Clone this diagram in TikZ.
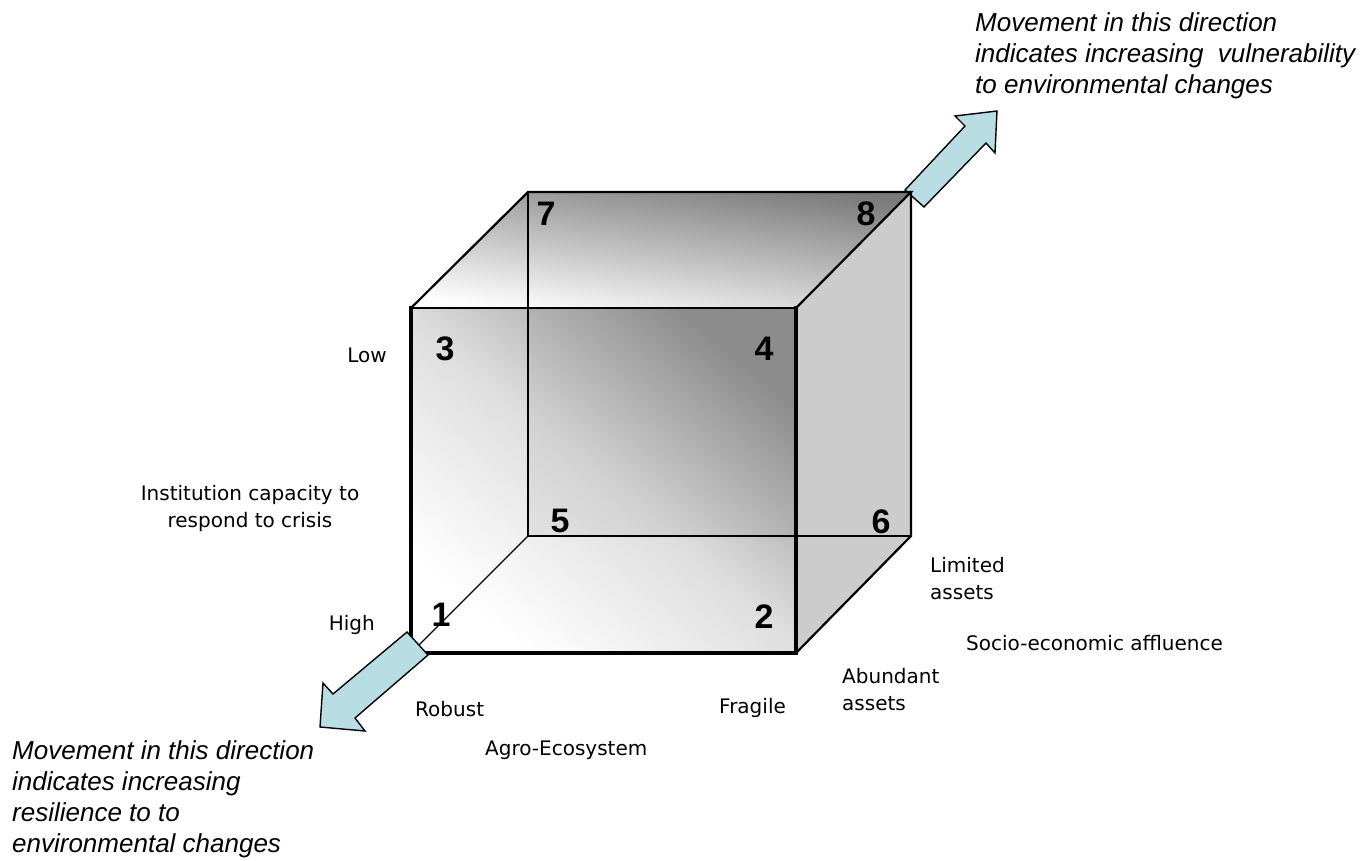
\documentclass[tikz,border=0pt]{standalone}
\usepackage{fontspec}
\setmainfont{Liberation Sans}
\newfontfamily\labelfont{DejaVu Sans}
\definecolor{arrowblue}{RGB}{184,222,227}
\definecolor{sidegray}{RGB}{204,204,204}
\tikzset{
  lbl/.style={font=\labelfont\fontsize{20}{27}\selectfont, inner sep=0pt, align=left},
  note/.style={font=\itshape\fontsize{26}{31}\selectfont, inner sep=0pt, align=left},
  num/.style={font=\bfseries\fontsize{34}{36}\selectfont, inner sep=0pt},
  blockarrow/.style={fill=arrowblue, draw=black, line width=1.4pt, line join=miter},
  thinedge/.style={line width=1.2pt},
  midedge/.style={line width=2.2pt},
  thickedge/.style={line width=3.6pt, line join=miter, line cap=rect},
}
\begin{document}
\begin{tikzpicture}[x=1pt, y=-1pt]
\useasboundingbox (0,0) rectangle (1369,860);
% cube corners
\coordinate (p1) at (411,653);
\coordinate (p2) at (796,653);
\coordinate (p3) at (411,308);
\coordinate (p4) at (796,308);
\coordinate (p5) at (528,536);
\coordinate (p6) at (911,536);
\coordinate (p7) at (528,192);
\coordinate (p8) at (911,192);

% upper arrow (behind cube)
\draw[blockarrow] (924,207) -- (986,143) -- (995,153) -- (997,111) -- (955,116) -- (965,126) -- (905,190) -- cycle;

% faces
\shade[left color=white, right color=black!52, shading angle=172] (p3) -- (p7) -- (p8) -- (p4) -- cycle;
\fill[sidegray] (p4) -- (p8) -- (p6) -- (p2) -- cycle;
\shade[left color=white, right color=black!42, middle color=black!13, shading angle=140] (p3) rectangle (p2);
\fill[black, opacity=0.05] (528,308) rectangle (796,536);

% hidden (back) edges
\draw[thinedge] (p7) -- (p5) -- (p6);
\draw[thinedge] (p5) -- (p1);
% outer edges
\draw[midedge, line join=miter] (p3) -- (p7) -- (p8) -- (p4);
\draw[midedge, line join=miter] (p8) -- (p6) -- (p2);
\draw[midedge] (p3) -- (p4);
\draw[thickedge] (p3) -- (p1) -- (p2) -- (p4);

% lower arrow (in front of cube)
\draw[blockarrow] (407,632) -- (333,694) -- (323,683) -- (320,727) -- (365,731) -- (355,718) -- (428,655) -- cycle;

% corner numbers
\node[num] (n1) at (441,615) {1};
\node[num] (n2) at (764,617) {2};
\node[num] (n3) at (445,349) {3};
\node[num] (n4) at (764,349) {4};
\node[num] (n5) at (560,521) {5};
\node[num] (n6) at (881,522) {6};
\node[num] (n7) at (546,214) {7};
\node[num] (n8) at (866,214) {8};

% axis labels
\node[lbl, anchor=base east] (low) at (387,362) {Low};
\node[lbl, anchor=base east] (high) at (375,630) {High};
\node[lbl, align=center, anchor=base] (inst) at (250,527) {Institution capacity to\\respond to crisis};
\node[lbl, anchor=base west] (robust) at (415,716) {Robust};
\node[lbl, anchor=base west] (agro) at (485,755) {Agro-Ecosystem};
\node[lbl, anchor=base west] (fragile) at (719,713) {Fragile};
\node[lbl, anchor=base west] (abund) at (842,710) {Abundant\\assets};
\node[lbl, anchor=base west] (limited) at (930,599) {Limited\\assets};
\node[lbl, anchor=base west] (socio) at (966,650) {Socio-economic affluence};

% notes
\node[note, anchor=base west] (vuln) at (975,93) {Movement in this direction\\indicates increasing\ \ vulnerability\\to environmental changes};
\node[note, anchor=base west] (resil) at (12,852) {Movement in this direction\\indicates increasing\\resilience to to\\environmental changes};
\end{tikzpicture}
\end{document}
